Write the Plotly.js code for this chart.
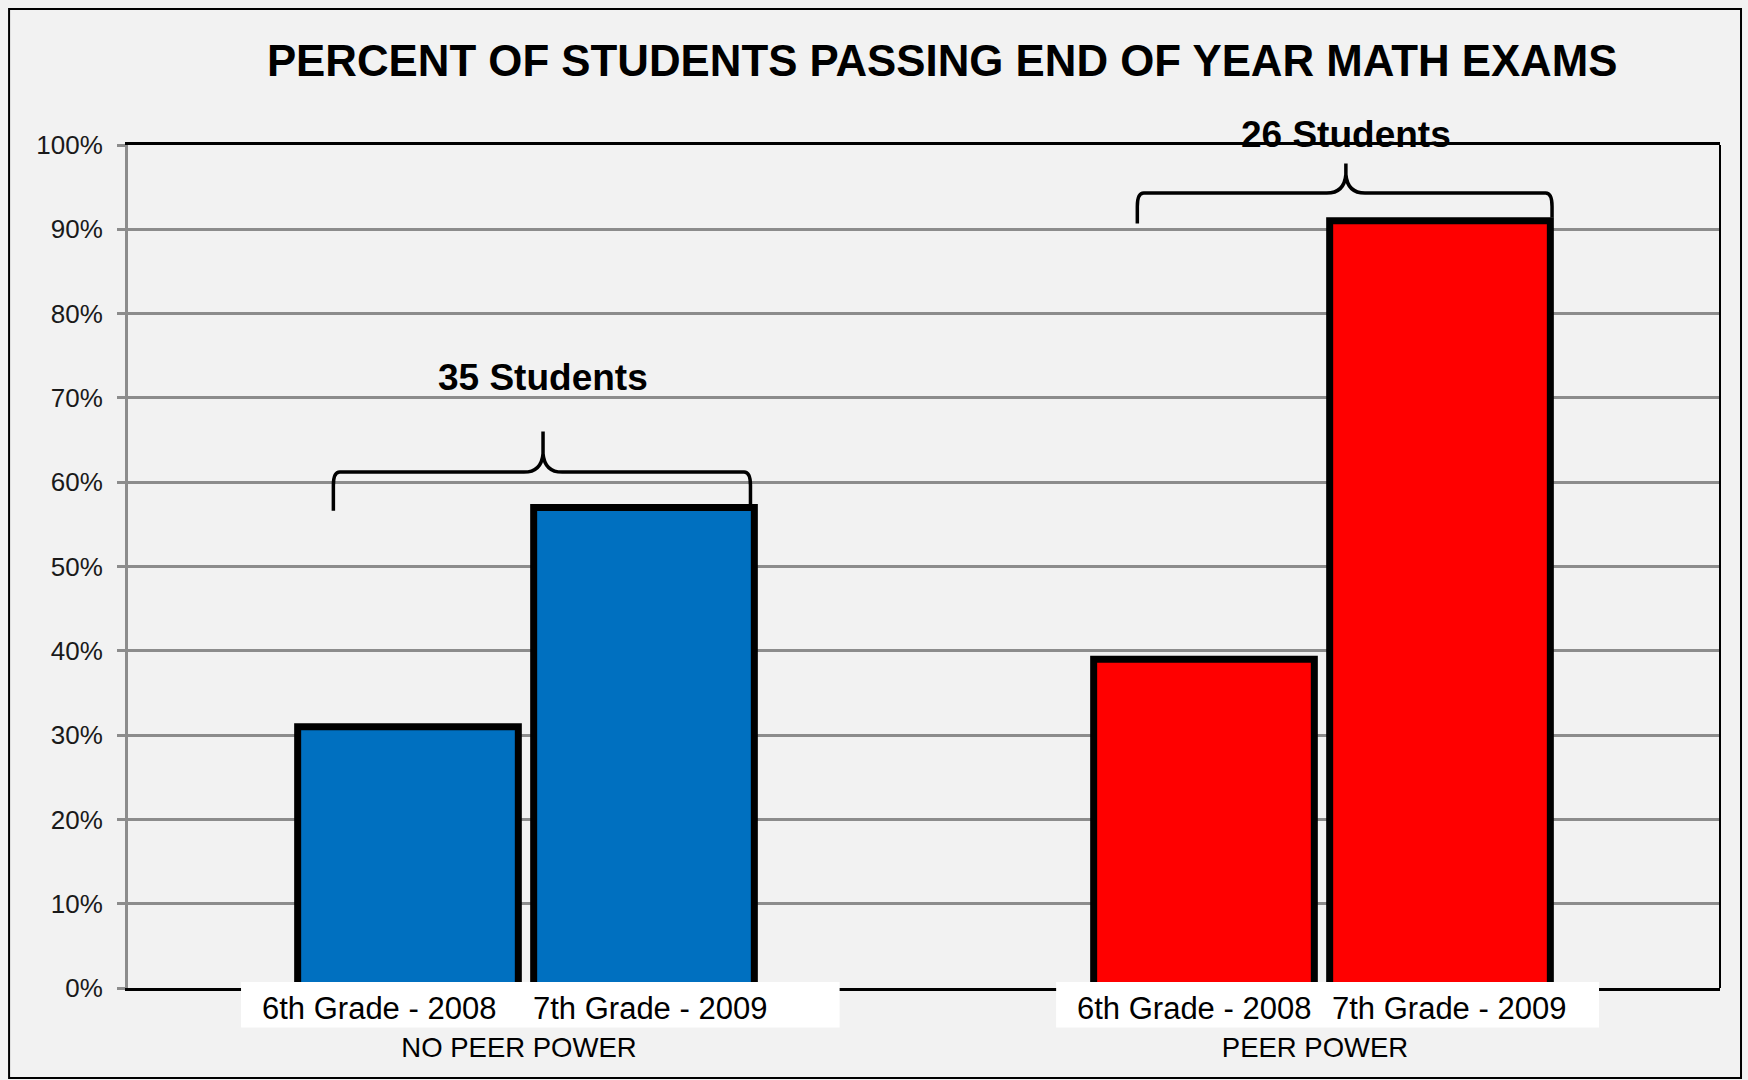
<!DOCTYPE html>
<html>
<head>
<meta charset="utf-8">
<script src="https://cdn.plot.ly/plotly-3.0.1.min.js"></script>
<style>
  html, body { margin: 0; padding: 0; background: #f2f2f2; }
  #chart { width: 1748px; height: 1080px; }
</style>
</head>
<body>
<div id="chart"></div>
<script>
// ---- data ----
const groups = ["NO PEER POWER", "PEER POWER"];
const grades = ["6th Grade - 2008", "7th Grade - 2009"];
const pct2008 = [31, 39];
const pct2009 = [57, 91];
const studentCounts = ["35 Students", "26 Students"];
const yTickVals = [0, 10, 20, 30, 40, 50, 60, 70, 80, 90, 100];
const yTickText = ["0%", "10%", "20%", "30%", "40%", "50%", "60%", "70%", "80%", "90%", "100%"];
const chartTitle = "PERCENT OF STUDENTS PASSING END OF YEAR MATH EXAMS";

// ---- styles ----
const groupColors = ["#0070C0", "#FF0000"];
const outline = { color: "#000000", width: 7 };
const gridGray = "#8c8c8c";
const bg = "#f2f2f2";
const fontFamily = "Liberation Sans, Arial, sans-serif";

const traces = [pct2008, pct2009].map((vals, k) => ({
  type: "bar",
  name: grades[k],
  x: groups,
  y: vals,
  marker: { color: groupColors, line: outline },
  hoverinfo: "x+y",
  showlegend: false
}));

// label placement (category units offsets) and box extents
const labelOffsets = [[-0.185, 0.156], [-0.161, 0.160]];
const boxExtents = [[-0.358, 0.394], [-0.334, 0.348]];

const shapes = [];
const annotations = [];

groups.forEach((g, i) => {
  shapes.push({
    type: "rect", layer: "above", xref: "x", yref: "paper",
    x0: i + boxExtents[i][0], x1: i + boxExtents[i][1],
    y0: -0.047, y1: 0.007,
    fillcolor: "#ffffff", line: { width: 0 }
  });
  grades.forEach((gr, k) => {
    annotations.push({
      xref: "x", yref: "paper", x: i + labelOffsets[i][k], y: -0.0245,
      xanchor: "center", yanchor: "middle", showarrow: false,
      text: gr, font: { family: fontFamily, size: 31, color: "#000000" }
    });
  });
});

// curly braces (x and y in paper units)
function bracePath(xL, xC, xR, yEndL, yEndR, yLine, ySpike) {
  const dx = 0.004, dy = 0.016, dc = 0.012, ds = 0.022;
  return [
    "M", xL, yEndL,
    "L", xL, yLine - dy,
    "Q", xL, yLine, xL + dx, yLine,
    "L", xC - dc, yLine,
    "Q", xC - 0.001, yLine, xC, yLine + ds,
    "L", xC, ySpike,
    "M", xC, yLine + ds,
    "Q", xC + 0.001, yLine, xC + dc, yLine,
    "L", xR - dx, yLine,
    "Q", xR, yLine, xR, yLine - dy,
    "L", xR, yEndR
  ].join(" ");
}
const braces = [
  { xL: 0.129, xC: 0.2607, xR: 0.391, yEndL: 0.566, yEndR: 0.570, yLine: 0.612, ySpike: 0.660, ly: 0.724 },
  { xL: 0.634, xC: 0.765, xR: 0.8945, yEndL: 0.907, yEndR: 0.914, yLine: 0.943, ySpike: 0.978, ly: 1.013 }
];
braces.forEach((b, i) => {
  shapes.push({
    type: "path", layer: "above", xref: "paper", yref: "paper",
    path: bracePath(b.xL, b.xC, b.xR, b.yEndL, b.yEndR, b.yLine, b.ySpike),
    line: { color: "#000000", width: 3.5 }
  });
  annotations.push({
    xref: "paper", yref: "paper", x: b.xC, y: b.ly,
    xanchor: "center", yanchor: "middle", showarrow: false,
    text: "<b>" + studentCounts[i] + "</b>",
    font: { family: fontFamily, size: 37, color: "#000000" }
  });
});

// right border of plot area
shapes.push({
  type: "line", layer: "above", xref: "paper", yref: "paper",
  x0: 1, x1: 1, y0: 0, y1: 1, line: { color: "#000000", width: 2 }
});
// outer chart border
shapes.push({
  type: "rect", layer: "above", xref: "paper", yref: "paper",
  x0: -0.0747, x1: 1.0132, y0: -0.1068, y1: 1.1613,
  line: { color: "#000000", width: 2 }, fillcolor: "rgba(0,0,0,0)"
});

const layout = {
  width: 1748, height: 1080,
  margin: { l: 128, r: 28, t: 145, b: 92 },
  paper_bgcolor: bg, plot_bgcolor: bg,
  barmode: "group", bargap: 0.407, bargroupgap: 0.065,
  title: {
    text: "<b>" + chartTitle + "</b>",
    x: 0.539, xref: "container", xanchor: "center",
    y: 0.9435, yref: "container", yanchor: "middle",
    font: { family: fontFamily, size: 43.8, color: "#000000" }
  },
  xaxis: {
    type: "category",
    showline: true, linecolor: "#000000", linewidth: 3, mirror: true,
    showgrid: false, ticks: "", ticklabelstandoff: 33, ticklabelshift: -7,
    tickfont: { family: fontFamily, size: 27.5, color: "#000000" }
  },
  yaxis: {
    range: [0, 100], tickvals: yTickVals, ticktext: yTickText,
    showgrid: true, gridcolor: gridGray, gridwidth: 3, zeroline: false,
    showline: true, linecolor: gridGray, linewidth: 3,
    ticks: "outside", ticklen: 8, tickwidth: 3, tickcolor: gridGray,
    ticklabelstandoff: 9,
    tickfont: { family: fontFamily, size: 26, color: "#1a1a1a" }
  },
  shapes: shapes,
  annotations: annotations
};

Plotly.newPlot("chart", traces, layout, { displayModeBar: false, staticPlot: true });
</script>
</body>
</html>
